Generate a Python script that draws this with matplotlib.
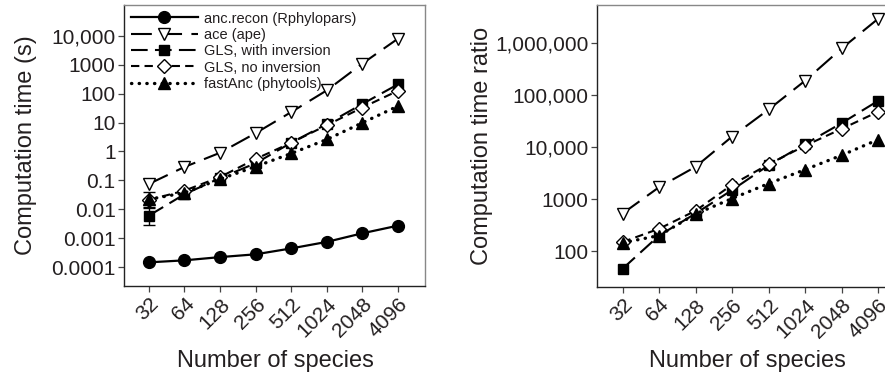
import matplotlib
matplotlib.use("Agg")
import matplotlib.pyplot as plt
from matplotlib.ticker import FixedLocator, NullLocator

plt.rcParams['font.family'] = ['Liberation Sans', 'DejaVu Sans']

species = ["32", "64", "128", "256", "512", "1024", "2048", "4096"]

# Left panel: computation time (s)
t_ancrecon = [1.45e-4, 1.7e-4, 2.2e-4, 2.75e-4, 4.4e-4, 7.4e-4, 1.47e-3, 2.7e-3]
t_ace = [0.075, 0.29, 0.9, 4.3, 23, 130, 1100, 8000]
t_gls_inv = [0.006, 0.033, 0.12, 0.39, 2.0, 8.9, 44, 210]
t_gls_noinv = [0.021, 0.044, 0.13, 0.55, 2.0, 8.1, 33, 126]
t_fastanc = [0.022, 0.037, 0.11, 0.30, 0.85, 2.6, 9.8, 37]
# error bar at 32 species
err_gls_inv_lo, err_gls_inv_hi = 0.0028, 0.011
err_fastanc_lo, err_fastanc_hi = 0.012, 0.038

# Right panel: computation time ratio
r_ace = [530, 1700, 4200, 16000, 53000, 190000, 790000, 2950000]
r_gls_inv = [46, 200, 530, 1500, 4500, 11500, 29000, 78000]
r_gls_noinv = [150, 270, 600, 1900, 4700, 10700, 22500, 48000]
r_fastanc = [145, 200, 520, 1030, 2000, 3700, 7000, 14000]

left_yticks = [1e-4, 1e-3, 1e-2, 1e-1, 1, 10, 100, 1000, 10000]
left_ylabels = ["0.0001", "0.001", "0.01", "0.1", "1", "10", "100", "1000", "10,000"]
right_yticks = [100, 1000, 10000, 100000, 1000000]
right_ylabels = ["100", "1000", "10,000", "100,000", "1,000,000"]

labels = ["anc.recon (Rphylopars)", "ace (ape)", "GLS, with inversion",
          "GLS, no inversion", "fastAnc (phytools)"]

TXT = "#231f20"
W, H = 885, 378
fig = plt.figure(figsize=(W / 100, H / 100), dpi=100)

def px_axes(l, t, r, b):
    return fig.add_axes([l / W, 1 - b / H, (r - l) / W, (b - t) / H])

ax1 = px_axes(124, 5, 425, 286)
ax2 = px_axes(597, 5, 906, 287)

x = list(range(len(species)))

styles = dict(
    anc=dict(color="black", ls="-", lw=1.6, marker="o", ms=8.5, mfc="black", mec="black"),
    ace=dict(color="black", ls=(0, (10, 4.5)), lw=1.5, marker="v", ms=8.5, mfc="white", mec="black", mew=1.0),
    inv=dict(color="black", ls=(0, (8, 3.5)), lw=1.5, marker="s", ms=6.5, mfc="black", mec="black"),
    noinv=dict(color="black", ls=(0, (4, 2.5)), lw=1.5, marker="D", ms=7, mfc="white", mec="black", mew=1.0),
    fast=dict(color="black", ls=(0, (0.1, 2.2)), lw=2.4, dash_capstyle="round", marker="^", ms=8, mfc="black", mec="black"),
)

h1, = ax1.plot(x, t_ancrecon, label=labels[0], **styles["anc"])
h2, = ax1.plot(x, t_ace, label=labels[1], **styles["ace"])
h3, = ax1.plot(x, t_gls_inv, label=labels[2], **styles["inv"])
h4, = ax1.plot(x, t_gls_noinv, label=labels[3], **styles["noinv"])
h5, = ax1.plot(x, t_fastanc, label=labels[4], **styles["fast"])
ax1.errorbar([x[0]], [t_gls_inv[0]],
             yerr=[[t_gls_inv[0] - err_gls_inv_lo], [err_gls_inv_hi - t_gls_inv[0]]],
             fmt="none", ecolor="black", elinewidth=1.0, capsize=4)
ax1.errorbar([x[0]], [t_fastanc[0]],
             yerr=[[t_fastanc[0] - err_fastanc_lo], [err_fastanc_hi - t_fastanc[0]]],
             fmt="none", ecolor="black", elinewidth=1.0, capsize=4)

ax2.plot(x, r_ace, **styles["ace"])
ax2.plot(x, r_gls_inv, **styles["inv"])
ax2.plot(x, r_gls_noinv, **styles["noinv"])
ax2.plot(x, r_fastanc, **styles["fast"])

for ax, yt, yl, lims, ylabel in [
        (ax1, left_yticks, left_ylabels, (2.2e-5, 1.17e5), "Computation time (s)"),
        (ax2, right_yticks, right_ylabels, (20.5, 5.4e6), "Computation time ratio")]:
    ax.set_yscale("log")
    ax.set_ylim(*lims)
    ax.set_xlim(-0.70, 7.76)
    ax.yaxis.set_major_locator(FixedLocator(yt))
    ax.yaxis.set_minor_locator(NullLocator())
    ax.set_yticklabels(yl, fontsize=15, color=TXT)
    ax.set_xticks(x)
    ax.set_xticklabels(species, fontsize=15, color=TXT, rotation=45,
                       ha="right", va="top", rotation_mode="anchor")
    ax.tick_params(axis="both", direction="out", length=4, width=0.9, color="#444444", pad=2)
    ax.tick_params(axis="x", pad=2)
    ax.spines["left"].set_color("#222222")
    ax.spines["bottom"].set_color("#222222")
    ax.spines["top"].set_color("#888888")
    ax.spines["right"].set_color("#888888")
    for s in ax.spines.values():
        s.set_linewidth(1.0)
    ax.set_xlabel("Number of species", fontsize=17, color=TXT, va="top")
    ax.set_ylabel(ylabel, fontsize=17, color=TXT)

ax1.yaxis.set_label_coords(-(124 - 37) / 301, 0.5)
ax2.yaxis.set_label_coords(-(597 - 493) / 309, 0.5)
ax1.xaxis.set_label_coords((275 - 124) / 301, -(350 - 286) / 281)
ax2.xaxis.set_label_coords((747 - 597) / 309, -(350 - 287) / 282)

leg = ax1.legend(handles=[h1, h2, h3, h4, h5], loc="upper left", frameon=False,
                 fontsize=10.5, handlelength=4.65, handletextpad=0.4,
                 labelspacing=0.16, borderaxespad=0.0, borderpad=0.45,
                 bbox_to_anchor=(0.0, 1.0))
for t in leg.get_texts():
    t.set_color(TXT)

fig.savefig("out.png", dpi=100)
